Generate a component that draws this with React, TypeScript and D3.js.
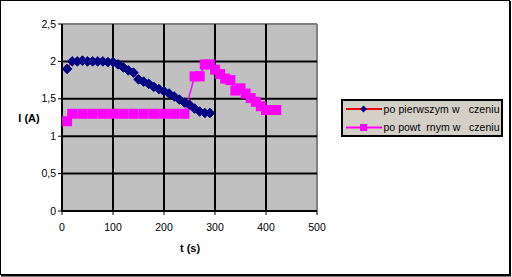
import React from "react";
import * as d3 from "d3";

const xTicks = [0, 100, 200, 300, 400, 500];
const yTicks = [0, 0.5, 1, 1.5, 2, 2.5];
const yTickLabels = ["0", "0,5", "1", "1,5", "2", "2,5"];

const firstT = [10, 20, 30, 40, 50, 60, 70, 80, 90, 100, 110, 120, 130, 140, 150, 160, 170, 180, 190, 200, 210, 220, 230, 240, 250, 260, 270, 280, 290];
const firstI = [1.9, 2.0, 2.0, 2.01, 2.0, 2.0, 2.0, 2.0, 1.99, 1.99, 1.96, 1.92, 1.88, 1.85, 1.76, 1.73, 1.7, 1.66, 1.63, 1.6, 1.57, 1.53, 1.49, 1.45, 1.42, 1.37, 1.33, 1.31, 1.31];

const secondT = [10, 20, 40, 60, 80, 100, 120, 140, 160, 180, 200, 220, 240, 260, 270, 280, 290, 300, 310, 320, 330, 340, 350, 360, 370, 380, 390, 400, 410, 420];
const secondI = [1.2, 1.3, 1.3, 1.3, 1.3, 1.3, 1.3, 1.3, 1.3, 1.3, 1.3, 1.3, 1.3, 1.8, 1.8, 1.96, 1.96, 1.89, 1.83, 1.77, 1.75, 1.61, 1.64, 1.57, 1.51, 1.46, 1.4, 1.35, 1.35, 1.35];

const seriesNames = ["po pierwszym w   czeniu", "po powt  rnym w   czeniu"];

const FONT = "'Liberation Sans', Arial, sans-serif";

export default function App() {
  const x = d3.scaleLinear().domain([0, 500]).range([62, 317]);
  const y = d3.scaleLinear().domain([0, 2.5]).range([211, 24]);

  const first = firstT.map((t, i) => [t, firstI[i]] as [number, number]);
  const second = secondT.map((t, i) => [t, secondI[i]] as [number, number]);
  const line = d3.line<[number, number]>().x((d) => x(d[0])).y((d) => y(d[1]));

  const diamond = (cx: number, cy: number, r: number) =>
    `M${cx},${cy - r}L${cx + r},${cy}L${cx},${cy + r}L${cx - r},${cy}Z`;

  return (
    <svg width={512} height={277} style={{ position: "absolute", left: 0, top: 0, fontFamily: FONT }}>
      <rect x={0} y={0} width={512} height={277} fill="#fff" />
      {/* outer frame */}
      <rect x={0.5} y={0.5} width={509} height={274} fill="none" stroke="#000" strokeWidth={1} />
      <line x1={510} y1={1} x2={510} y2={276} stroke="#000" strokeWidth={2} />
      <line x1={1} y1={275.5} x2={511} y2={275.5} stroke="#000" strokeWidth={2} />

      {/* plot area */}
      <rect x={x(0)} y={y(2.5)} width={x(500) - x(0)} height={y(0) - y(2.5)} fill="#c0c0c0" />
      <line x1={x(0)} y1={y(2.5)} x2={x(500)} y2={y(2.5)} stroke="#808080" strokeWidth={2} />
      <line x1={x(500)} y1={y(2.5)} x2={x(500)} y2={y(0)} stroke="#808080" strokeWidth={2} />
      {yTicks.slice(1, -1).map((v) => (
        <line key={"gy" + v} x1={x(0)} x2={x(500)} y1={y(v)} y2={y(v)} stroke="#000" strokeWidth={2} />
      ))}
      {xTicks.slice(1, -1).map((v) => (
        <line key={"gx" + v} x1={x(v)} x2={x(v)} y1={y(0)} y2={y(2.5)} stroke="#000" strokeWidth={2} />
      ))}
      {/* axes */}
      <line x1={x(0)} y1={y(0)} x2={x(0)} y2={y(2.5)} stroke="#000" strokeWidth={2} />
      <line x1={x(0)} y1={y(0)} x2={x(500)} y2={y(0)} stroke="#000" strokeWidth={2} />
      {yTicks.map((v, i) => (
        <g key={"yt" + v}>
          <line x1={x(0) - 4} x2={x(0)} y1={y(v)} y2={y(v)} stroke="#000" strokeWidth={1} />
          <text x={x(0) - 6} y={y(v)} dy="0.35em" textAnchor="end" fontSize={10.5} fill="#000">
            {yTickLabels[i]}
          </text>
        </g>
      ))}
      {xTicks.map((v) => (
        <g key={"xt" + v}>
          <line x1={x(v)} x2={x(v)} y1={y(0)} y2={y(0) + 4} stroke="#000" strokeWidth={1} />
          <text x={x(v)} y={227} dy="0.35em" textAnchor="middle" fontSize={10.5} fill="#000">
            {v}
          </text>
        </g>
      ))}
      <text x={190} y={248} dy="0.35em" textAnchor="middle" fontSize={11} fontWeight="bold">
        t (s)
      </text>
      <text x={29} y={118} dy="0.35em" textAnchor="middle" fontSize={11} fontWeight="bold">
        I (A)
      </text>

      {/* series 2 (pink) */}
      <path d={line(second) || ""} fill="none" stroke="#ff00ff" strokeWidth={1.5} />
      {second.map((d, i) => (
        <rect key={"s2" + i} x={x(d[0]) - 5} y={y(d[1]) - 5} width={10} height={10} fill="#ff00ff" />
      ))}
      {/* series 1 (red line, navy diamonds) */}
      <path d={line(first) || ""} fill="none" stroke="#ff0000" strokeWidth={1.5} />
      {first.map((d, i) => (
        <path key={"s1" + i} d={diamond(x(d[0]), y(d[1]), 4.8)} fill="#000080" stroke="#000080" strokeWidth={1} />
      ))}

      {/* legend */}
      <rect x={342} y={100} width={160} height={36} fill="#d4d0c8" stroke="#000" strokeWidth={2} />
      {seriesNames.map((name, i) => {
        const ly = 109 + i * 18.5;
        return (
          <g key={"lg" + i}>
            <line x1={346} x2={382} y1={ly} y2={ly} stroke={i === 0 ? "#ff0000" : "#ff00ff"} strokeWidth={2} />
            {i === 0 ? (
              <path d={diamond(363.5, ly, 3.5)} fill="#000080" />
            ) : (
              <rect x={360} y={ly - 3.5} width={7} height={7} fill="#ff00ff" />
            )}
            <text x={383.5} y={ly} dy="0.35em" fontSize={10.5} textLength={116} lengthAdjust="spacing" fill="#000" style={{ whiteSpace: "pre" }}>
              {name}
            </text>
          </g>
        );
      })}
    </svg>
  );
}
